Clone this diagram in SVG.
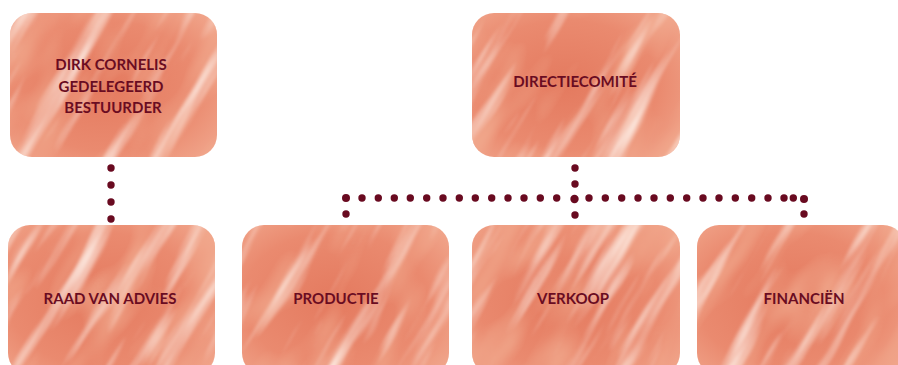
<svg xmlns="http://www.w3.org/2000/svg" width="898" height="365" viewBox="0 0 898 365">
<style>
.base{fill:url(#g1)}
.lbl{font-family:Lato,"Open Sans","Liberation Sans",sans-serif;font-weight:bold;font-size:15px;fill:#6a0c22;text-anchor:middle}
.dot{fill:#690a20}
</style>
<defs>
<radialGradient id="g1" cx="0.45" cy="0.5" r="0.75">
<stop offset="0" stop-color="#e47a5f"/>
<stop offset="0.6" stop-color="#ea8a6f"/>
<stop offset="1" stop-color="#f2aa90"/>
</radialGradient>
<filter id="streak" x="0" y="0" width="1" height="1">
<feTurbulence type="fractalNoise" baseFrequency="0.05 0.006" numOctaves="3" seed="4"/>
<feColorMatrix values="0 0 0 0 1  0 0 0 0 0.93  0 0 0 0 0.88  2.4 0 0 0 -1.25"/>
<feGaussianBlur stdDeviation="0.8"/>
</filter>
<filter id="mottle" x="0" y="0" width="1" height="1">
<feTurbulence type="fractalNoise" baseFrequency="0.03 0.012" numOctaves="2" seed="9"/>
<feColorMatrix values="0 0 0 0 0.88  0 0 0 0 0.4  0 0 0 0 0.27  2.2 0 0 0 -1.0"/>
</filter>
<clipPath id="c1"><rect x="10" y="13" width="207" height="144" rx="22"/></clipPath>
<clipPath id="c2"><rect x="472" y="13" width="208" height="144" rx="22"/></clipPath>
<clipPath id="c3"><rect x="8" y="225" width="207" height="150" rx="22"/></clipPath>
<clipPath id="c4"><rect x="242" y="225" width="207" height="150" rx="22"/></clipPath>
<clipPath id="c5"><rect x="472" y="225" width="208" height="150" rx="22"/></clipPath>
<clipPath id="c6"><rect x="697" y="225" width="208" height="150" rx="22"/></clipPath>
</defs>
<rect width="898" height="365" fill="#fff"/>

<g id="node-dirk">
<rect class="base" x="10" y="13" width="207" height="144" rx="22"/>
<g clip-path="url(#c1)">
<rect transform="rotate(30 113 85)" x="-87" y="-115" width="400" height="400" filter="url(#mottle)"/>
<rect transform="rotate(30 113 85)" x="-87" y="-115" width="400" height="400" filter="url(#streak)"/>
</g>
<text class="lbl" x="111" y="70">DIRK CORNELIS</text>
<text class="lbl" x="111" y="92">GEDELEGEERD</text>
<text class="lbl" x="113" y="113">BESTUURDER</text>
</g>

<g id="node-directie">
<rect class="base" x="472" y="13" width="208" height="144" rx="22"/>
<g clip-path="url(#c2)">
<rect transform="rotate(30 576 85)" x="376" y="-115" width="400" height="400" filter="url(#mottle)"/>
<rect transform="rotate(30 576 85)" x="376" y="-115" width="400" height="400" filter="url(#streak)"/>
</g>
<text class="lbl" x="575" y="87">DIRECTIECOMITÉ</text>
</g>

<g id="node-raad">
<rect class="base" x="8" y="225" width="207" height="150" rx="22"/>
<g clip-path="url(#c3)">
<rect transform="rotate(30 111 300)" x="-89" y="100" width="400" height="400" filter="url(#mottle)"/>
<rect transform="rotate(30 111 300)" x="-89" y="100" width="400" height="400" filter="url(#streak)"/>
</g>
<text class="lbl" x="110" y="304">RAAD VAN ADVIES</text>
</g>

<g id="node-productie">
<rect class="base" x="242" y="225" width="207" height="150" rx="22"/>
<g clip-path="url(#c4)">
<rect transform="rotate(30 345 300)" x="145" y="100" width="400" height="400" filter="url(#mottle)"/>
<rect transform="rotate(30 345 300)" x="145" y="100" width="400" height="400" filter="url(#streak)"/>
</g>
<text class="lbl" x="336" y="304">PRODUCTIE</text>
</g>

<g id="node-verkoop">
<rect class="base" x="472" y="225" width="208" height="150" rx="22"/>
<g clip-path="url(#c5)">
<rect transform="rotate(30 576 300)" x="376" y="100" width="400" height="400" filter="url(#mottle)"/>
<rect transform="rotate(30 576 300)" x="376" y="100" width="400" height="400" filter="url(#streak)"/>
</g>
<text class="lbl" x="573" y="304">VERKOOP</text>
</g>

<g id="node-financien">
<rect class="base" x="697" y="225" width="208" height="150" rx="22"/>
<g clip-path="url(#c6)">
<rect transform="rotate(30 801 300)" x="601" y="100" width="400" height="400" filter="url(#mottle)"/>
<rect transform="rotate(30 801 300)" x="601" y="100" width="400" height="400" filter="url(#streak)"/>
</g>
<text class="lbl" x="804" y="304">FINANCIËN</text>
</g>

<g id="connectors" class="dot">
<circle cx="111" cy="168" r="3.7"/>
<circle cx="111" cy="185" r="3.7"/>
<circle cx="111" cy="202" r="3.7"/>
<circle cx="111" cy="219" r="3.7"/>
<circle cx="575" cy="168" r="3.7"/>
<circle cx="575" cy="184" r="3.7"/>
<circle cx="575" cy="215" r="3.7"/>
<circle cx="346" cy="214" r="3.7"/>
<circle cx="804" cy="214" r="3.7"/>
<circle cx="346" cy="198" r="4"/>
<circle cx="362" cy="198" r="3.7"/>
<circle cx="378.3" cy="198" r="3.7"/>
<circle cx="394.3" cy="198" r="3.7"/>
<circle cx="410.3" cy="198" r="3.7"/>
<circle cx="426.7" cy="198" r="3.7"/>
<circle cx="443" cy="198" r="3.7"/>
<circle cx="459.3" cy="198" r="3.7"/>
<circle cx="475.3" cy="198" r="3.7"/>
<circle cx="491.7" cy="198" r="3.7"/>
<circle cx="508" cy="198" r="3.7"/>
<circle cx="524" cy="198" r="3.7"/>
<circle cx="540.3" cy="198" r="3.7"/>
<circle cx="556.7" cy="198" r="3.7"/>
<circle cx="574.5" cy="199" r="4.2"/>
<circle cx="589" cy="198" r="3.7"/>
<circle cx="605.3" cy="198" r="3.7"/>
<circle cx="621.7" cy="198" r="3.7"/>
<circle cx="638" cy="198" r="3.7"/>
<circle cx="654" cy="198" r="3.7"/>
<circle cx="670.3" cy="198" r="3.7"/>
<circle cx="686.7" cy="198" r="3.7"/>
<circle cx="703" cy="198" r="3.7"/>
<circle cx="719" cy="198" r="3.7"/>
<circle cx="735.3" cy="198" r="3.7"/>
<circle cx="751.7" cy="198" r="3.7"/>
<circle cx="768" cy="198" r="3.7"/>
<circle cx="784" cy="198" r="3.7"/>
<circle cx="793.3" cy="198" r="3.7"/>
<circle cx="804" cy="199" r="4"/>
</g>
</svg>
